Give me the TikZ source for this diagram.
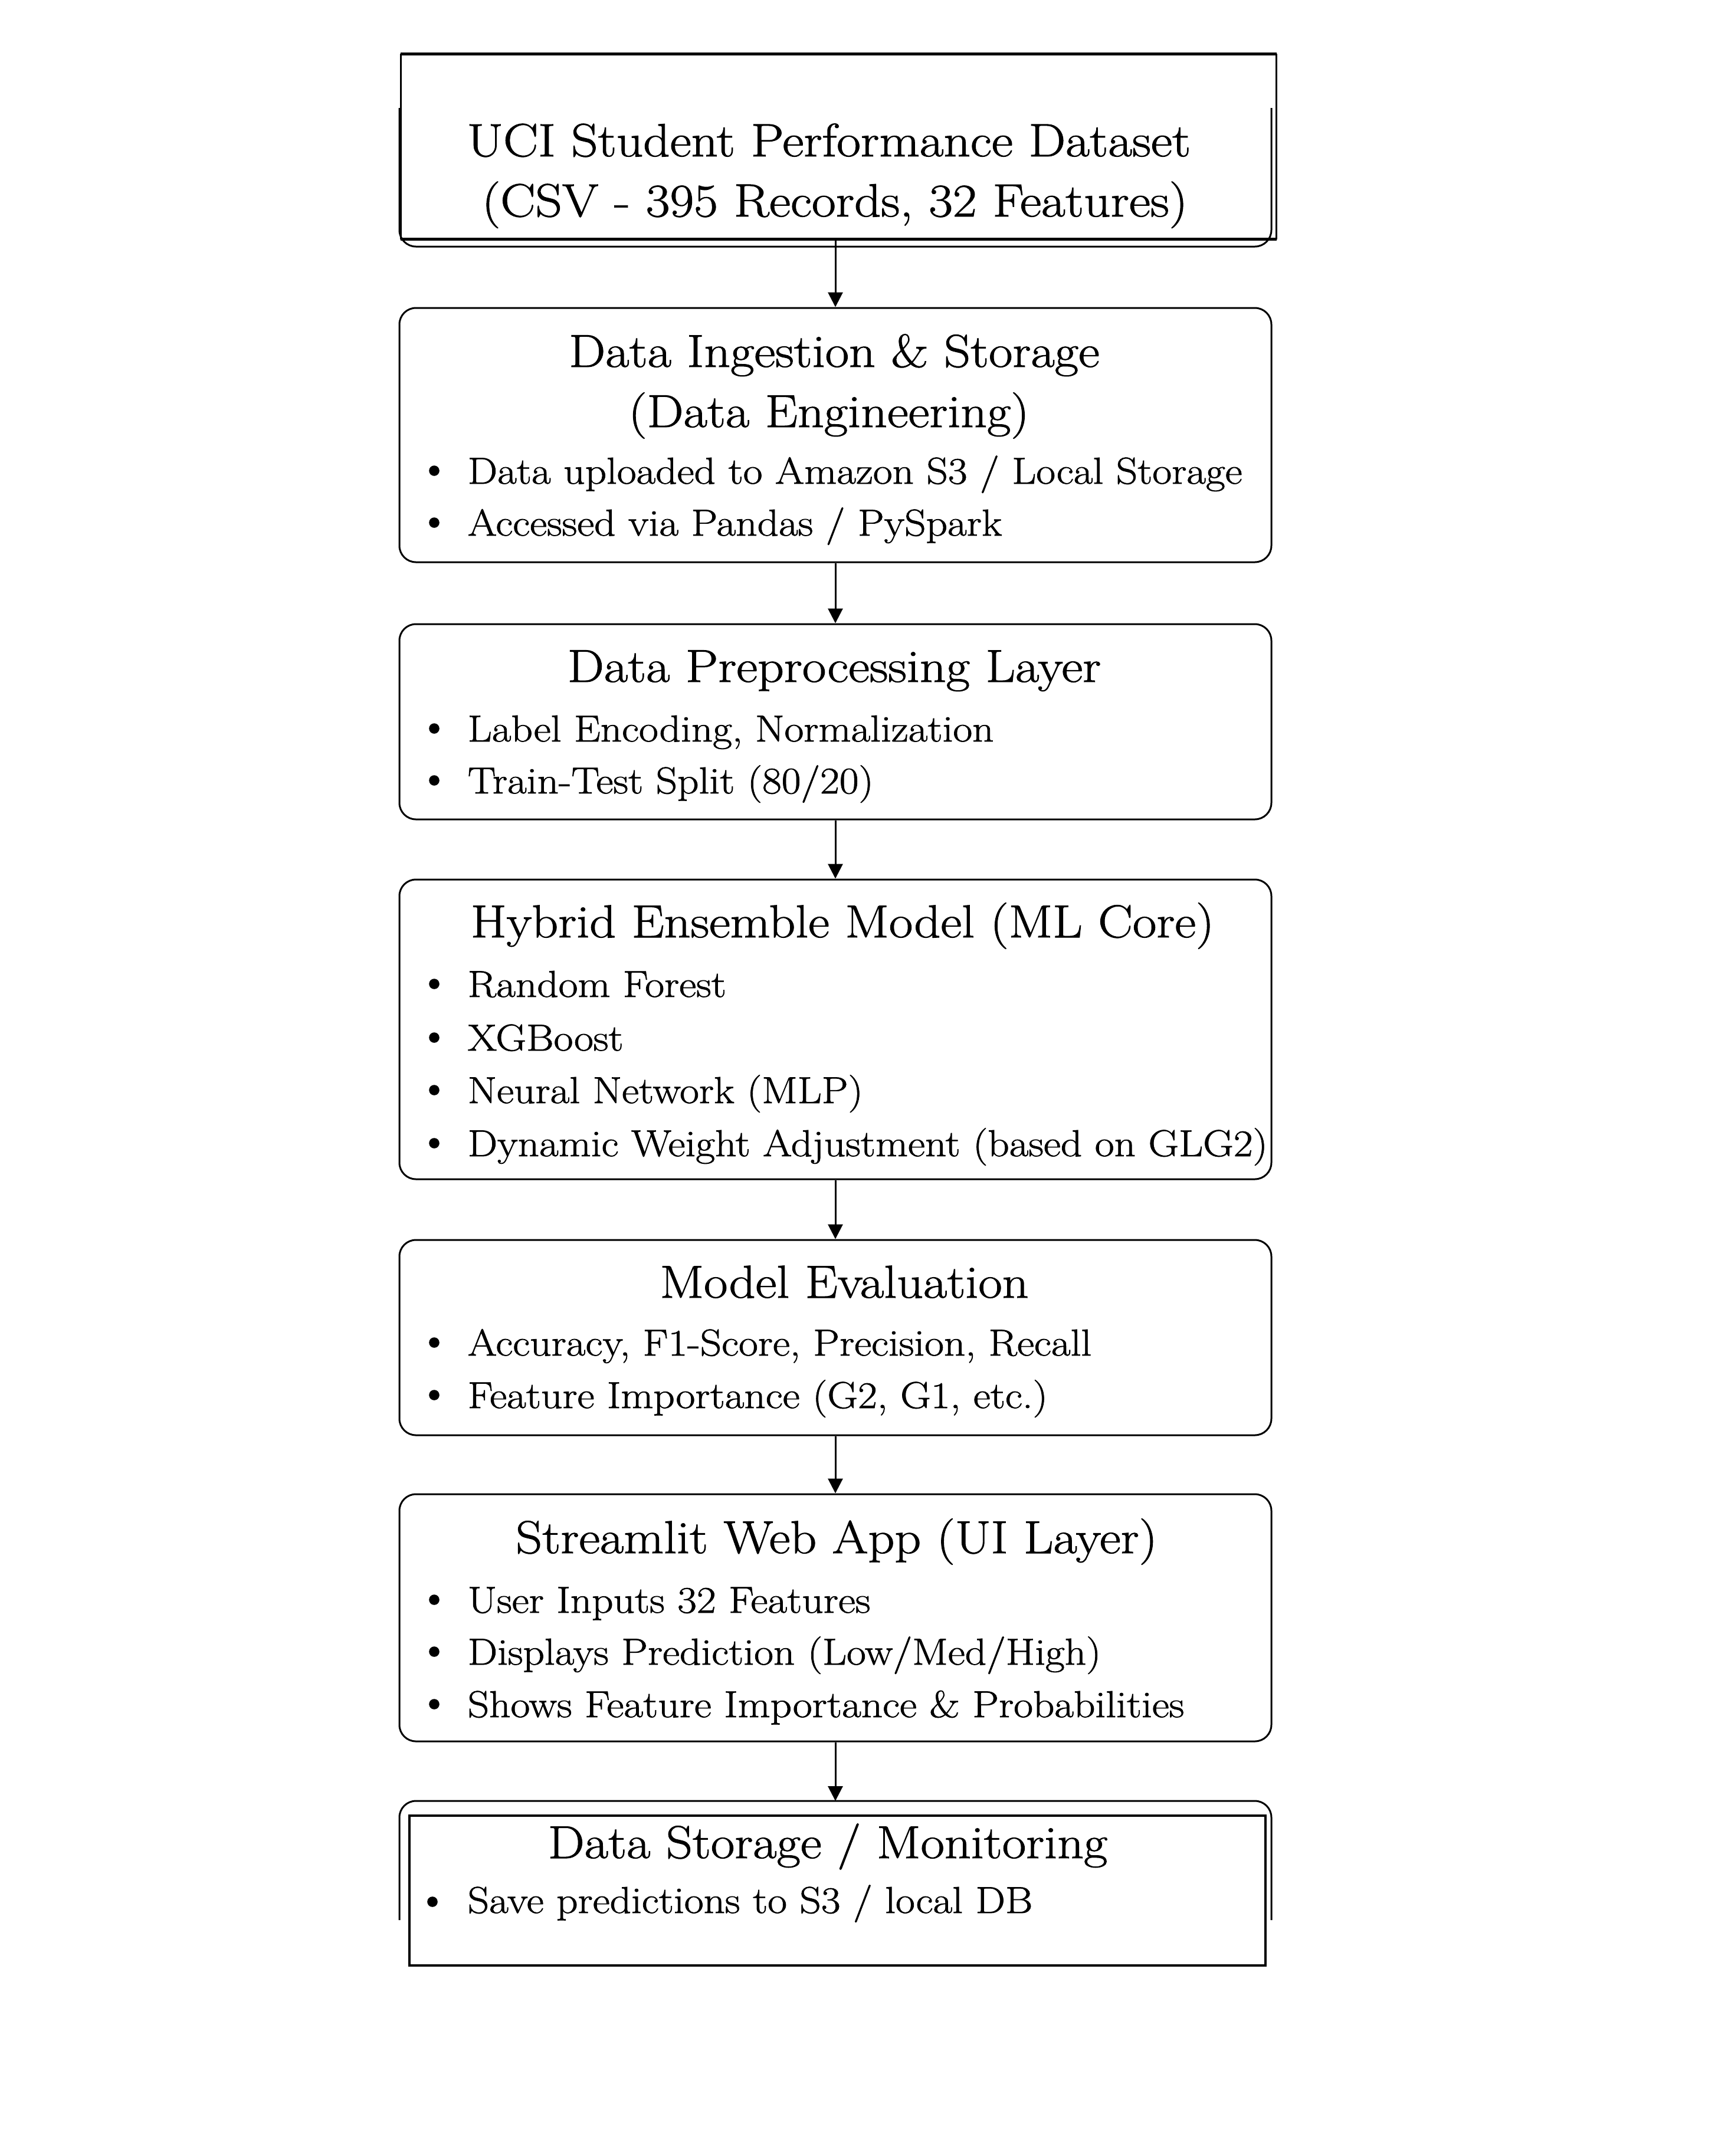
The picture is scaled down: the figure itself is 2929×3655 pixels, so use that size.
\documentclass[tikz,border=0pt]{standalone}
\usepackage{fontspec}
\setmainfont{Latin Modern Roman}[FakeStretch=1.12,FakeBold=1.2]
\usetikzlibrary{arrows.meta}
\begin{document}
\begin{tikzpicture}[x=0.25pt,y=-0.25pt,
  box/.style={draw,line width=0.75pt,rounded corners=7pt,minimum width=369.5pt,inner sep=0pt},
  sharp/.style={inner sep=0pt},
  ttl/.style={anchor=base,inner sep=0pt,font=\fontsize{19.6}{24}\selectfont},
  big/.style={anchor=base,inner sep=0pt,font=\fontsize{19.8}{25}\selectfont},
  itm/.style={anchor=base west,inner sep=0pt,font=\fontsize{15.9}{19}\selectfont},
  dot/.style={circle,fill,inner sep=0pt,minimum size=4.4pt},
  arr/.style={-{Triangle[length=6.25pt,width=6.25pt]},line width=0.75pt}]
\newcommand\bul[3]{\node[dot] (#1d) at (736,#2-22) {}; \node[itm] (#1) at (792,#2) {#3};}
\useasboundingbox (0,0) rectangle (2929,3655);
\fill[white] (0,0) rectangle (2929,3655);

% top box
\draw[line width=0.75pt,rounded corners=7pt] (677,183) -- (677,418) -- (2155,418) -- (2155,183);
\node[sharp,minimum width=370.75pt,minimum height=78.25pt] (b0) at (1421.5,248.5) {};
\draw[line width=1.3pt] (b0.north west) -- (b0.north east);
\draw[line width=1.3pt] (b0.south west) -- (b0.south east);
\draw[line width=0.8pt] (b0.north west) -- (b0.south west);
\draw[line width=0.8pt] (b0.north east) -- (b0.south east);
\node[big] (t0a) at (1405,265) {UCI Student Performance Dataset};
\node[big] (t0b) at (1415,367) {(CSV - 395 Records, 32 Features)};

% box 1
\node[box,minimum height=107.75pt] (b1) at (1416,737.5) {};
\node[ttl] (t1a) at (1414,622) {Data Ingestion \& Storage};
\node[ttl] (t1b) at (1405,724) {(Data Engineering)};
\bul{i11}{820}{Data uploaded to Amazon S3 / Local Storage}
\bul{i12}{908}{Accessed via Pandas / PySpark}

% box 2
\node[box,minimum height=82.75pt] (b2) at (1416,1223.5) {};
\node[ttl] (t2) at (1414,1156) {Data Preprocessing Layer};
\bul{i21}{1257}{Label Encoding, Normalization}
\bul{i22}{1345}{Train-Test Split (80/20)}

% box 3
\node[box,minimum height=127pt] (b3) at (1416,1745) {};
\node[ttl] (t3) at (1428,1589) {Hybrid Ensemble Model (ML Core)};
\bul{i31}{1690}{Random Forest}
\bul{i32}{1781}{XGBoost}
\bul{i33}{1870}{Neural Network (MLP)}
\bul{i34}{1960}{Dynamic Weight Adjustment (based on GLG2)}

% box 4
\node[box,minimum height=82.75pt] (b4) at (1416,2267.5) {};
\node[ttl] (t4) at (1431,2200) {Model Evaluation};
\bul{i41}{2298}{Accuracy, F1-Score, Precision, Recall}
\bul{i42}{2387}{Feature Importance (G2, G1, etc.)}

% box 5
\node[box,minimum height=104.75pt] (b5) at (1416,2742.5) {};
\node[ttl] (t5) at (1418,2633) {Streamlit Web App (UI Layer)};
\bul{i51}{2734}{User Inputs 32 Features}
\bul{i52}{2822}{Displays Prediction (Low/Med/High)}
\bul{i53}{2911}{Shows Feature Importance \& Probabilities}

% bottom box
\draw[line width=0.75pt,rounded corners=7pt] (677,3255) -- (677,3053) -- (2155,3053) -- (2155,3255);
\coordinate (b6top) at (1416,3053);
\node[sharp,draw,line width=1.2pt,minimum width=362.75pt,minimum height=63.5pt] (b6) at (1419.5,3205) {};
\node[ttl] (t6) at (1403,3150) {Data Storage / Monitoring};
\node[dot] (i61d) at (733,3224) {};
\node[itm] (i61) at (792,3243) {Save predictions to S3 / local DB};

% arrows
\draw[arr] (b1.north |- b0.south) -- (b1.north);
\draw[arr] (b1.south) -- (b2.north);
\draw[arr] (b2.south) -- (b3.north);
\draw[arr] (b3.south) -- (b4.north);
\draw[arr] (b4.south) -- (b5.north);
\draw[arr] (b5.south) -- (b6top);
\end{tikzpicture}
\end{document}
